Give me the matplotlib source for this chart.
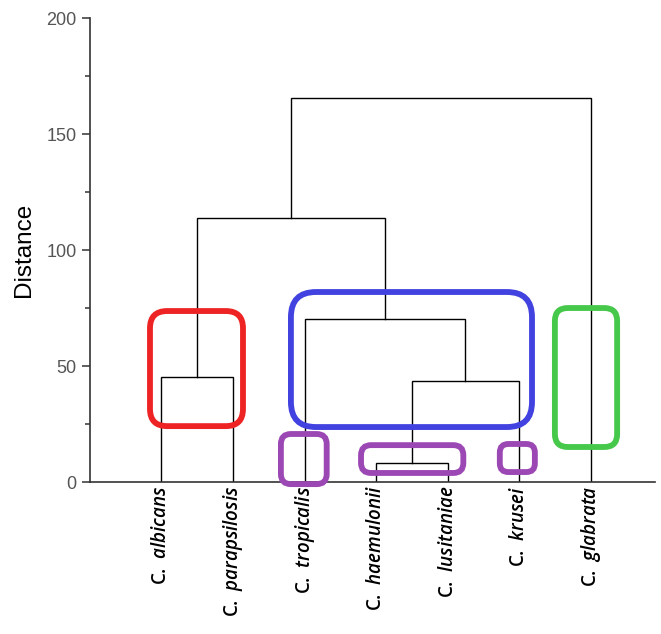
import matplotlib.pyplot as plt
from matplotlib.patches import FancyBboxPatch
from matplotlib.ticker import MultipleLocator

plt.rcParams['font.family'] = ['Liberation Sans', 'DejaVu Sans']
plt.rcParams['mathtext.fontset'] = 'custom'
plt.rcParams['mathtext.it'] = 'Open Sans:italic:semibold'
plt.rcParams['mathtext.rm'] = 'Open Sans:semibold'

genus = 'C.'
species = ['albicans', 'parapsilosis', 'tropicalis', 'haemulonii',
           'lusitaniae', 'krusei', 'glabrata']
# merges: (left cluster, right cluster, distance); new ids start at 7
merges = [(3, 4, 8.3), (7, 5, 43.5), (2, 8, 70.1),
          (0, 1, 45.3), (10, 9, 113.8), (11, 6, 165.5)]
# highlight boxes: x0, x1, y0, y1, colour, corner radius (x units)
boxes = [(0.84, 2.14, 24.1, 73.7, '#ee2424', 0.24),
         (2.81, 6.18, 23.7, 81.9, '#4242e0', 0.35),
         (2.67, 3.31, -0.9, 20.7, '#9c48b4', 0.14),
         (3.79, 5.22, 3.9, 15.9, '#9c48b4', 0.14),
         (5.73, 6.22, 4.3, 16.4, '#9c48b4', 0.12),
         (6.50, 7.37, 15.1, 75.0, '#46c84a', 0.18)]

fig = plt.figure(figsize=(6.61, 6.34), dpi=100)
ax = fig.add_axes([0.136, 0.2397, 0.855, 0.7319])
ax.set_xlim(0, 7.9)
ax.set_ylim(0, 200)

# node positions
pos = {i: (i + 1, 0.0) for i in range(len(species))}
for k, (a, b, h) in enumerate(merges):
    xa, ya = pos[a]
    xb, yb = pos[b]
    ax.plot([xa, xa, xb, xb], [ya, h, h, yb], color='black', lw=1.0,
            solid_joinstyle='miter', zorder=2)
    pos[len(species) + k] = ((xa + xb) / 2, h)

# aspect so corners come out round in pixels
xpx = ax.get_window_extent().width / 7.9
ypx = ax.get_window_extent().height / 200
asp = xpx / ypx
for x0, x1, y0, y1, c, r in boxes:
    p = FancyBboxPatch((x0, y0), x1 - x0, y1 - y0,
                       boxstyle='round,pad=0,rounding_size=%g' % r,
                       mutation_aspect=asp, fill=False, ec=c, lw=4.2,
                       zorder=3, clip_on=False)
    ax.add_patch(p)

for i, s in enumerate(species):
    ax.text(i + 1, -1.5, genus + '  $\\mathit{' + s + '}$', rotation=90,
            ha='center', va='top', fontsize=13.5, family='Open Sans',
            fontweight='semibold')

ax.spines['top'].set_visible(False)
ax.spines['right'].set_visible(False)
for sp in ['left', 'bottom']:
    ax.spines[sp].set_color('#333333')
    ax.spines[sp].set_linewidth(1.2)
ax.set_xticks([])
ax.yaxis.set_major_locator(MultipleLocator(50))
ax.yaxis.set_minor_locator(MultipleLocator(25))
ax.tick_params(axis='y', which='major', length=6, width=1.1,
               color='#333333', labelsize=13, labelcolor='#555555')
ax.tick_params(axis='y', which='minor', length=3.5, width=1.1,
               color='#333333')
ax.set_ylabel('Distance', fontsize=17.5, labelpad=8)

fig.savefig('out.png', dpi=100)
